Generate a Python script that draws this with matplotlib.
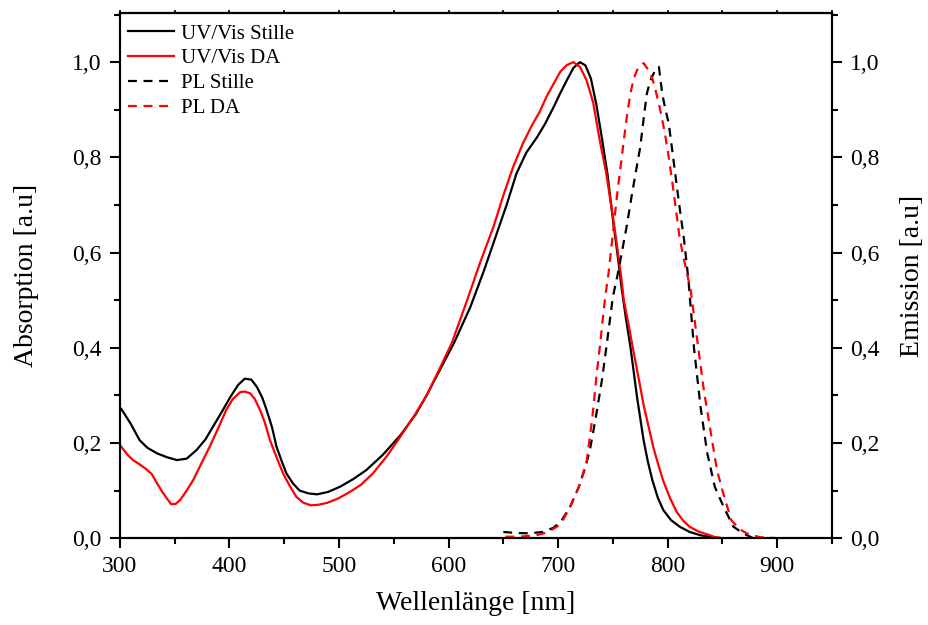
import matplotlib
matplotlib.use("Agg")
import matplotlib.pyplot as plt
from matplotlib.ticker import MultipleLocator, FuncFormatter

plt.rcParams["font.family"] = ["Liberation Serif", "DejaVu Serif"]

# UV/Vis Stille (black solid)
uv_stille_x = [300, 302, 310, 318, 325, 334, 343, 352, 361, 370, 378, 385, 393, 401, 408, 414,
               420, 425, 430, 434, 439, 443, 448, 452, 458, 464, 472, 480, 490, 501, 513, 525,
               540, 556, 570, 580, 592, 605, 620, 632, 644, 653, 662, 671, 681, 688, 696, 702,
               708, 714, 720, 725, 730, 735, 740, 745, 750, 754, 758, 762, 766, 772, 778, 782,
               786, 791, 796, 803, 811, 820, 830, 840, 850]
uv_stille_y = [0.275, 0.269, 0.24, 0.206, 0.19, 0.178, 0.17, 0.164, 0.167, 0.185, 0.207, 0.234, 0.265, 0.297, 0.322, 0.335,
               0.333, 0.318, 0.295, 0.269, 0.232, 0.192, 0.16, 0.136, 0.115, 0.1, 0.094, 0.092, 0.097, 0.108, 0.124, 0.143,
               0.175, 0.216, 0.26, 0.3, 0.353, 0.41, 0.486, 0.56, 0.64, 0.7, 0.766, 0.81, 0.843, 0.87, 0.906, 0.935,
               0.962, 0.988, 1.0, 0.993, 0.965, 0.91, 0.84, 0.766, 0.67, 0.6, 0.525, 0.46, 0.402, 0.297, 0.206, 0.16,
               0.122, 0.085, 0.059, 0.038, 0.024, 0.013, 0.006, 0.002, 0.0]

# UV/Vis DA (red solid)
uv_da_x = [300, 302, 307, 312, 318, 324, 329, 334, 338, 343, 347, 351, 355, 361, 367, 374, 382, 390,
           397, 403, 410, 414, 419, 423, 428, 432, 437, 443, 449, 455, 461, 467, 474, 481, 489, 499,
           510, 520, 531, 543, 556, 570, 580, 591, 603, 617, 629, 641, 650, 659, 668, 677, 683, 690,
           696, 702, 708, 714, 720, 726, 732, 738, 744, 751, 757, 760, 765, 769, 774, 778, 783, 787,
           792, 796, 802, 808, 814, 820, 828, 836, 842, 848]
uv_da_y = [0.195, 0.19, 0.175, 0.164, 0.155, 0.145, 0.135, 0.115, 0.1, 0.083, 0.071, 0.072, 0.08, 0.1, 0.122, 0.155, 0.192, 0.232,
           0.269, 0.292, 0.307, 0.308, 0.304, 0.293, 0.269, 0.245, 0.206, 0.17, 0.136, 0.11, 0.087, 0.075, 0.069, 0.07, 0.074, 0.083,
           0.097, 0.112, 0.136, 0.17, 0.213, 0.262, 0.3, 0.352, 0.41, 0.5, 0.58, 0.654, 0.72, 0.78, 0.83, 0.871, 0.895, 0.93,
           0.955, 0.98, 0.994, 1.0, 0.99, 0.962, 0.915, 0.836, 0.766, 0.66, 0.56, 0.5, 0.44, 0.39, 0.33, 0.28, 0.23, 0.19,
           0.15, 0.12, 0.085, 0.056, 0.037, 0.024, 0.014, 0.008, 0.003, 0.0]

# PL Stille (black dashed)
pl_stille_x = [650, 660, 674, 686, 696, 704, 711, 719, 725, 729, 734, 740, 744, 750, 754, 758, 763, 767,
               771, 775, 778, 781, 784, 788, 792, 795, 798, 801, 805, 810, 815, 819, 824, 830, 836, 843,
               851, 860, 869, 878]
pl_stille_y = [0.013, 0.011, 0.01, 0.013, 0.022, 0.04, 0.066, 0.108, 0.15, 0.185, 0.248, 0.332, 0.4, 0.507, 0.55, 0.598, 0.66, 0.717,
               0.77, 0.822, 0.88, 0.934, 0.96, 0.98, 0.99, 0.934, 0.9, 0.871, 0.8, 0.71, 0.626, 0.542, 0.4, 0.276, 0.18, 0.108,
               0.066, 0.024, 0.01, 0.0]

# PL DA (red dashed)
pl_da_x = [652, 665, 680, 690, 699, 705, 711, 719, 726, 731, 735, 738, 743, 746, 750, 754, 757, 760, 763, 766,
           769, 772, 775, 778, 782, 786, 789, 792, 795, 798, 801, 804, 808, 811, 815, 821, 827, 833, 839, 845,
           850, 858, 865, 872, 884, 900]
pl_da_y = [0.003, 0.003, 0.006, 0.012, 0.024, 0.04, 0.066, 0.108, 0.16, 0.248, 0.34, 0.4, 0.507, 0.556, 0.64, 0.724, 0.78, 0.836, 0.89, 0.934,
           0.965, 0.983, 0.99, 0.998, 0.985, 0.966, 0.94, 0.913, 0.88, 0.843, 0.8, 0.752, 0.682, 0.63, 0.584, 0.521, 0.416, 0.311, 0.227, 0.143,
           0.1, 0.038, 0.02, 0.01, 0.002, 0.0]

fig = plt.figure(figsize=(9.29, 6.25), dpi=100)
ax = fig.add_axes([0.129, 0.139, 0.7666, 0.840])
ax2 = ax.twinx()

lw = 1.6
l1, = ax.plot(uv_stille_x, uv_stille_y, color="black", lw=lw, label="UV/Vis Stille")
l2, = ax.plot(uv_da_x, uv_da_y, color="#ff0000", lw=lw, label="UV/Vis DA")
l3, = ax2.plot(pl_stille_x, pl_stille_y, color="black", lw=lw, dashes=(4, 3), label="PL Stille")
l4, = ax2.plot(pl_da_x, pl_da_y, color="#ff0000", lw=lw, dashes=(4, 3), label="PL DA")

comma = FuncFormatter(lambda v, p: f"{v:.1f}".replace(".", ","))
for a in (ax, ax2):
    a.set_xlim(300, 950)
    a.set_ylim(0, 1.103)
    a.yaxis.set_major_locator(MultipleLocator(0.2))
    a.yaxis.set_minor_locator(MultipleLocator(0.1))
    a.yaxis.set_major_formatter(comma)
    for s in a.spines.values():
        s.set_linewidth(1.5)

ax.xaxis.set_major_locator(MultipleLocator(100))
ax.xaxis.set_minor_locator(MultipleLocator(50))
ax.tick_params(axis="both", which="major", direction="out", length=7, width=1.5, labelsize=17, pad=6)
ax.tick_params(axis="both", which="minor", direction="out", length=4, width=1.5)
ax2.tick_params(axis="y", which="major", direction="out", length=7, width=1.5, labelsize=17, pad=6)
ax2.tick_params(axis="y", which="minor", direction="out", length=4, width=1.5)

# short ticks on the top edge
top = ax.secondary_xaxis("top")
top.xaxis.set_major_locator(MultipleLocator(50))
top.tick_params(axis="x", direction="out", length=2.5, width=1.2, labeltop=False)
top.spines["top"].set_linewidth(1.5)

ax.set_xlabel("Wellenlänge [nm]", fontsize=20, labelpad=10)
ax.set_ylabel("Absorption [a.u]", fontsize=20, labelpad=24)
ax2.set_ylabel("Emission [a.u]", fontsize=20, labelpad=15)

ax2.legend(handles=[l1, l2, l3, l4], loc="upper left", frameon=False, fontsize=15,
           handlelength=2.2, handletextpad=0.35, labelspacing=0.25,
           borderaxespad=0.0, bbox_to_anchor=(0.0, 0.995))

fig.savefig("out.png", dpi=100)
